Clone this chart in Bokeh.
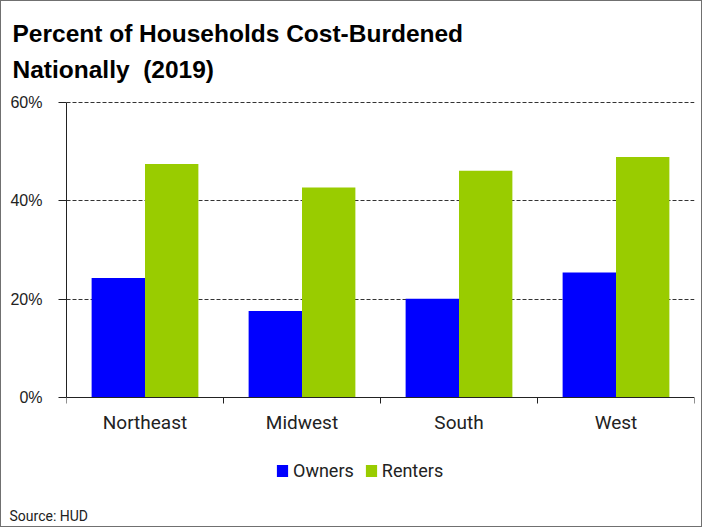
from bokeh.plotting import figure
from bokeh.models import (FixedTicker, PrintfTickFormatter, Title, Legend, LegendItem,
                          Range1d)
from bokeh.embed import file_html
from bokeh.resources import INLINE
import numpy as np

# ---- data ----
regions = ["Northeast", "Midwest", "South", "West"]
owners = [24.3, 17.6, 20.1, 25.4]
renters = [47.5, 42.7, 46.1, 48.9]
y_ticks = [0, 20, 40, 60]

title_line1 = "Percent of Households Cost-Burdened"
title_line2 = "Nationally\u00a0 (2019)"
source_text = "Source: HUD"

BLUE = "#0000FF"
GREEN = "#99CC00"
COND = "Roboto"
WIDE = "Liberation Sans"
TXT = "#222222"

# layout (pixels)
W, H = 702, 527
B_LEFT, B_RIGHT, B_TOP, B_BOTTOM = 65, 9, 100, 26
AXIS_PX = 295            # pixel height of the 0..60 span
TOP_PAD_PX = 1           # keeps the 60% grid line inside the frame
frame_h = H - B_TOP - B_BOTTOM
y_max = max(y_ticks)
per_px = y_max / AXIS_PX
y_top = y_max + TOP_PAD_PX * per_px
y_bottom = -(frame_h - AXIS_PX - TOP_PAD_PX) * per_px   # room below the axis for legend

p = figure(width=W, height=H, output_backend="svg", toolbar_location=None,
           x_range=Range1d(0, len(regions)), y_range=Range1d(y_bottom, y_top),
           min_border_left=B_LEFT, min_border_right=B_RIGHT,
           min_border_top=B_TOP, min_border_bottom=B_BOTTOM)
p.styles = {"border": "1px solid #707070"}
p.outline_line_color = None
p.background_fill_color = "white"
p.border_fill_color = "white"

idx = np.arange(len(regions))
bw = 0.34
r_own = p.vbar(x=idx + 0.5 - bw / 2, top=owners, width=bw, bottom=0,
               fill_color=BLUE, line_color=None)
r_ren = p.vbar(x=idx + 0.5 + bw / 2, top=renters, width=bw, bottom=0,
               fill_color=GREEN, line_color=None)

# x axis at y = 0: labels at centres, tick marks at category boundaries
xa = p.xaxis[0]
xa.fixed_location = 0
xa.ticker = FixedTicker(ticks=list(idx + 0.5), minor_ticks=list(range(len(regions) + 1)))
xa.major_label_overrides = {float(i + 0.5): r for i, r in enumerate(regions)}
xa.major_tick_in = 0
xa.major_tick_out = 0
xa.minor_tick_in = 0
xa.minor_tick_out = 6
xa.minor_tick_line_color = TXT
xa.axis_line_color = TXT
xa.major_label_text_font = COND
xa.major_label_text_font_size = "19px"
xa.major_label_text_color = TXT
xa.major_label_standoff = 7

ya = p.yaxis[0]
ya.bounds = (0, y_max)
ya.ticker = FixedTicker(ticks=y_ticks, minor_ticks=[])
ya.formatter = PrintfTickFormatter(format="%d%%")
ya.major_tick_in = 0
ya.major_tick_out = 8
ya.major_tick_line_color = TXT
ya.axis_line_color = TXT
ya.major_label_text_font = WIDE
ya.major_label_text_font_size = "16px"
ya.major_label_text_color = TXT
ya.major_label_standoff = 16

p.xgrid.grid_line_color = None
p.ygrid.ticker = FixedTicker(ticks=y_ticks[1:])
p.ygrid.grid_line_color = "#333333"
p.ygrid.grid_line_dash = "4 2"
p.ygrid.grid_line_width = 1

# titles: the later-added one sits farther from the plot
p.add_layout(Title(text=title_line2, align="left", offset=-54, standoff=38,
                   text_font=WIDE, text_font_style="bold", text_font_size="24.5px",
                   text_color="black"), "above")
p.add_layout(Title(text=title_line1, align="left", offset=-54, standoff=-24,
                   text_font=WIDE, text_font_style="bold", text_font_size="24.5px",
                   text_color="black"), "above")

legend = Legend(items=[LegendItem(label="Owners", renderers=[r_own]),
                       LegendItem(label="Renters", renderers=[r_ren])],
                orientation="horizontal", location=(209, 21),
                glyph_width=14, glyph_height=15, label_standoff=4, spacing=10,
                padding=0, margin=0, border_line_color=None, background_fill_alpha=0,
                label_text_font=COND, label_text_font_size="18px", label_text_color=TXT)
p.add_layout(legend, "center")

p.add_layout(Title(text=source_text, align="left", offset=-57, standoff=7,
                   text_font=COND, text_font_size="14px", text_font_style="normal",
                   text_color=TXT), "below")

open("out.html", "w").write(file_html(p, INLINE))
